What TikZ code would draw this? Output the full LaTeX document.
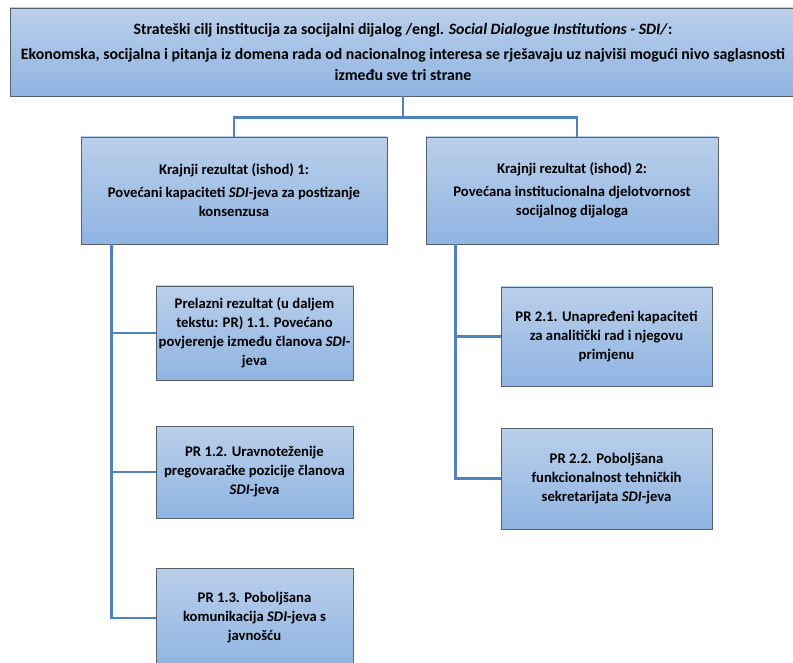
\documentclass[tikz,border=0pt]{standalone}
\usepackage{fontspec}
\setmainfont{Carlito}
\usepackage{tikz}
\usetikzlibrary{shadows}

\definecolor{boxtop}{RGB}{186,207,234}
\definecolor{boxbot}{RGB}{143,180,226}
\definecolor{boxedge}{RGB}{90,96,104}
\definecolor{linkblue}{RGB}{79,129,189}

\begin{document}
\begin{tikzpicture}[x=1pt,y=-1pt,
    goalbox/.style={draw=boxedge, line width=0.8pt, top color=boxtop, bottom color=boxbot,
      drop shadow={shadow xshift=1pt, shadow yshift=-1pt, opacity=0.35},
      align=center, inner sep=0pt, font=\fontsize{14.7}{19}\selectfont\bfseries},
    link/.style={draw=linkblue, line width=2.4pt}]
      \useasboundingbox (0,0) rectangle (793,663);
      \node[goalbox, minimum width=786pt, minimum height=88pt, font=\fontsize{15.8}{21}\selectfont\bfseries] (goal) at (403,52)
        {Strateški cilj institucija za socijalni dijalog /engl. \textit{Social Dialogue Institutions - SDI/}:\\[4pt]
         Ekonomska, socijalna i pitanja iz domena rada od nacionalnog interesa se rješavaju uz najviši mogući nivo saglasnosti\\
         između sve tri strane};
      \node[goalbox, minimum width=306pt, minimum height=107pt] (ishod1) at (234,190.5)
        {Krajnji rezultat (ishod) 1:\\[4pt] Povećani kapaciteti \textit{SDI}-jeva za postizanje\\ konsenzusa};
      \node[goalbox, minimum width=292pt, minimum height=107pt] (ishod2) at (572,190.5)
        {Krajnji rezultat (ishod) 2:\\[4pt] Povećana institucionalna djelotvornost\\ socijalnog dijaloga};
      \node[goalbox, minimum width=197pt, minimum height=94pt] (pr11) at (254.5,333)
        {Prelazni rezultat (u daljem\\ tekstu: PR) 1.1. Povećano\\ povjerenje između članova \textit{SDI}-\\ jeva};
      \node[goalbox, minimum width=197pt, minimum height=92pt] (pr12) at (254.5,472)
        {PR 1.2. Uravnoteženije\\ pregovaračke pozicije članova\\ \textit{SDI}-jeva};
      \node[goalbox, minimum width=197pt, minimum height=100pt] (pr13) at (254.5,618)
        {PR 1.3. Poboljšana\\ komunikacija \textit{SDI}-jeva s\\ javnošću};
      \node[goalbox, minimum width=211pt, minimum height=99pt] (pr21) at (606.5,336.5)
        {PR 2.1. Unapređeni kapaciteti\\ za analitički rad i njegovu\\ primjenu};
      \node[goalbox, minimum width=211pt, minimum height=101pt] (pr22) at (606.5,478.5)
        {PR 2.2. Poboljšana\\ funkcionalnost tehničkih\\ sekretarijata \textit{SDI}-jeva};

      \coordinate (split) at ([yshift=-21pt]goal.south);
      \coordinate (drop2) at ([xshift=5pt]ishod2.north);
      \coordinate (spine1) at ([xshift=31pt]ishod1.south west);
      \coordinate (spine2) at ([xshift=30pt]ishod2.south west);
      \draw[link] (goal.south) -- (split);
      \draw[link] (split) -| (ishod1.north);
      \draw[link] (split) -| (drop2);
      \draw[link] (spine1) |- (pr11.west);
      \draw[link] (spine1) |- (pr12.west);
      \draw[link] (spine1) |- (pr13.west);
      \draw[link] (spine2) |- (pr21.west);
      \draw[link] (spine2) |- (pr22.west);

    \end{tikzpicture}
\end{document}
